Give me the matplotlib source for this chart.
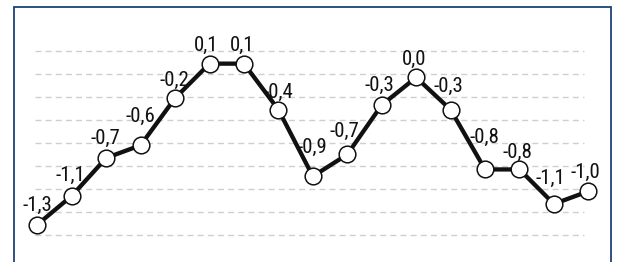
import matplotlib
matplotlib.use("Agg")
import matplotlib.pyplot as plt
from matplotlib.patches import Rectangle
import numpy as np

# ---- data ----
values = [-1.31, -1.06, -0.73, -0.62, -0.21, 0.09, 0.09, -0.31, -0.89,
          -0.70, -0.27, -0.03, -0.31, -0.83, -0.83, -1.13, -1.02]
labels = ["-1,3", "-1,1", "-0,7", "-0,6", "-0,2", "0,1", "0,1", "-0,4", "-0,9",
          "-0,7", "-0,3", "0,0", "-0,3", "-0,8", "-0,8", "-1,1", "-1,0"]
grid_levels = [0.2, 0.0, -0.2, -0.4, -0.6, -0.8, -1.0, -1.2, -1.4]

# ---- layout (label baseline rise above each point, pixels) ----
label_rise = [14, 15, 14, 23, 12, 13, 13, 12, 23, 18, 14, 13, 18, 27, 12, 20, 13]
label_dx = [0, -1, -1, 0, -1, -3, -2, 0, 0, -3, -2, -2, -2, -1, -2, -4, -3]

W, H, DPI = 617, 262, 100
fig = plt.figure(figsize=(W / DPI, H / DPI), dpi=DPI)
fig.patch.set_facecolor("white")
ax = fig.add_axes([0, 0, 1, 1])
ax.set_axis_off()

x = np.arange(len(values))
ax.set_xlim(-1.083, 16.832)
ax.set_ylim(-1.635, 0.6435)

# dashed gridlines
for g in grid_levels:
    ax.plot([-0.066, 15.88], [g, g], color="#cfcfcf", lw=1.0,
            dashes=(4.3, 3.0), zorder=1, solid_capstyle="butt")

# line with markers
ax.plot(x, values, color="#111111", lw=3.1, zorder=2,
        marker="o", markersize=12, markerfacecolor="white",
        markeredgecolor="#111111", markeredgewidth=1.1)

for xi, v, lab, r, dx in zip(x, values, labels, label_rise, label_dx):
    ax.annotate(lab, (xi, v), xytext=(dx, r), textcoords="offset pixels",
                ha="center", va="baseline", fontsize=15, color="#111111",
                family=["Roboto Condensed", "Liberation Sans", "DejaVu Sans"],
                zorder=3)

# frame border (open at bottom)
fig.patches.append(Rectangle((13.5 / W, -0.1), (610.5 - 13.5) / W,
                             (H - 7.5) / H + 0.1, transform=fig.transFigure,
                             fill=False, edgecolor="#1f4274", lw=1.3))

fig.savefig("out.png", dpi=DPI, facecolor="white")
